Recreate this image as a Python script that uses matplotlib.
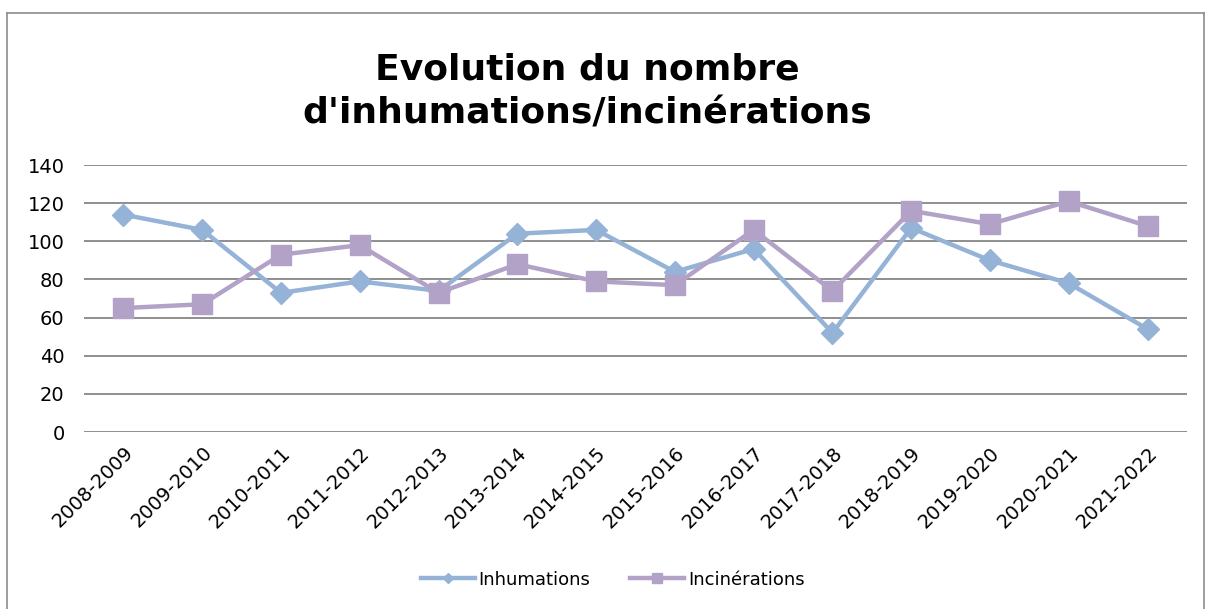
import numpy as np
import matplotlib
matplotlib.use("Agg")
from matplotlib import pyplot as plt

# categories (school years)
seasons = ["2008-2009", "2009-2010", "2010-2011", "2011-2012", "2012-2013",
           "2013-2014", "2014-2015", "2015-2016", "2016-2017", "2017-2018",
           "2018-2019", "2019-2020", "2020-2021", "2021-2022"]
# values
inhumations = [114, 106, 73, 79, 74, 104, 106, 84, 96, 52, 107, 90, 78, 54]
incinerations = [65, 67, 93, 98, 73, 88, 79, 77, 106, 74, 116, 109, 121, 108]
yticks = [0, 20, 40, 60, 80, 100, 120, 140]

blue = "#95B3D7"
purple = "#B2A2C7"
grid_col = "#868686"

fig = plt.figure(figsize=(12.06, 6.09), dpi=100)
ax = fig.add_axes([0.0697, 0.2906, 0.9145, 0.4384])

x = np.arange(len(seasons))
ax.plot(x, inhumations, color=blue, lw=3.2, marker="D", ms=11,
        label="Inhumations", zorder=3)
ax.plot(x, incinerations, color=purple, lw=3.2, marker="s", ms=14,
        label="Incinérations", zorder=3)

ax.set_xlim(-0.5, len(seasons) - 0.5)
ax.set_ylim(0, 140)
ax.set_yticks(yticks)
ax.set_xticks(x)
ax.set_xticklabels(seasons, rotation=45, ha="right", rotation_mode="anchor")
ax.tick_params(axis="both", length=0, labelsize=14)
ax.tick_params(axis="y", pad=14)
ax.tick_params(axis="x", pad=8)

for s in ax.spines.values():
    s.set_visible(False)
ax.yaxis.grid(True, color=grid_col, lw=1.3)
ax.set_axisbelow(True)

fig.text(0.487, 0.85, "Evolution du nombre\nd'inhumations/incinérations",
         ha="center", va="center", fontsize=26, fontweight="bold",
         linespacing=1.35)

leg = fig.legend(loc="center", bbox_to_anchor=(0.508, 0.048), ncol=2,
                 frameon=False, fontsize=13, handlelength=3.0,
                 columnspacing=2.2, handletextpad=0.2, markerscale=0.5)

# outer chart frame
fig.add_artist(plt.Line2D([0.006, 0.006], [0.0, 0.978], color="#8c8c8c",
                          lw=1.2, transform=fig.transFigure))
fig.add_artist(plt.Line2D([0.006, 0.998], [0.978, 0.978], color="#8c8c8c",
                          lw=1.2, transform=fig.transFigure))
fig.add_artist(plt.Line2D([0.998, 0.998], [0.0, 0.978], color="#8c8c8c",
                          lw=1.2, transform=fig.transFigure))

fig.savefig("out.png", dpi=100)
